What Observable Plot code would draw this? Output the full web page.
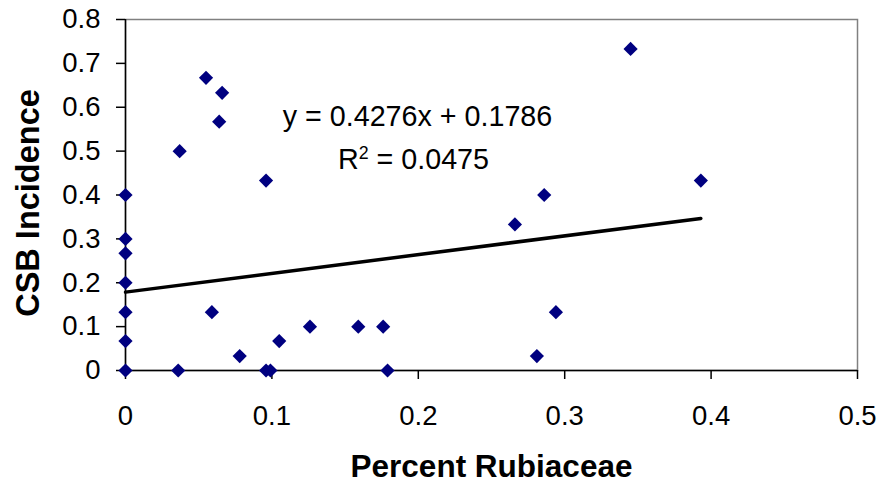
<!DOCTYPE html>
<html>
<head>
<meta charset="utf-8">
<script src="https://cdn.jsdelivr.net/npm/d3@7"></script>
<script src="https://cdn.jsdelivr.net/npm/@observablehq/plot@0.6"></script>
<style>
  html, body { margin: 0; padding: 0; background: #fff; }
</style>
</head>
<body>
<div id="chart"></div>
<script>
// Percent Rubiaceae (x) vs CSB Incidence (y)
const percentRubiaceae = [0, 0, 0, 0, 0, 0, 0, 0.036, 0.037, 0.055, 0.059, 0.064, 0.066, 0.078, 0.096, 0.096, 0.099, 0.105, 0.126, 0.159, 0.176, 0.179, 0.266, 0.281, 0.286, 0.294, 0.345, 0.393];
const csbIncidence    = [0.4, 0.3, 0.267, 0.2, 0.133, 0.067, 0, 0, 0.5, 0.667, 0.133, 0.567, 0.633, 0.033, 0.433, 0, 0, 0.067, 0.1, 0.1, 0.1, 0, 0.333, 0.033, 0.4, 0.133, 0.733, 0.433];

const trendSlope = 0.4276;
const trendIntercept = 0.1786;
const equationText = "y = 0.4276x + 0.1786";
const rSquaredText = "R2 = 0.0475";

const xTicks = [0, 0.1, 0.2, 0.3, 0.4, 0.5];
const xTickLabels = ["0", "0.1", "0.2", "0.3", "0.4", "0.5"];
const yTicks = [0, 0.1, 0.2, 0.3, 0.4, 0.5, 0.6, 0.7, 0.8];
const yTickLabels = ["0", "0.1", "0.2", "0.3", "0.4", "0.5", "0.6", "0.7", "0.8"];

const xTitle = "Percent Rubiaceae";
const yTitle = "CSB Incidence";

const points = percentRubiaceae.map((x, i) => ({x, y: csbIncidence[i]}));
const xMax = d3.max(percentRubiaceae);
const trend = [0, xMax].map(x => ({x, y: trendSlope * x + trendIntercept}));

const FONT = "'Liberation Sans', Arial, Helvetica, sans-serif";

const chart = Plot.plot({
  width: 881,
  height: 488,
  marginLeft: 125,
  marginRight: 24,
  marginTop: 19,
  marginBottom: 118,
  style: {fontFamily: FONT, fontSize: "27px", color: "#000", background: "#fff"},
  x: {domain: [0, 0.5], nice: false},
  y: {domain: [0, 0.8], nice: false},
  marks: [
    Plot.frame({stroke: "#808080", strokeWidth: 1.5}),
    Plot.ruleX([0], {stroke: "#000", strokeWidth: 1.5}),
    Plot.ruleY([0], {stroke: "#000", strokeWidth: 1.5}),
    Plot.axisX(xTicks, {tickSize: 9, tickPadding: 26, fontSize: 27.5, stroke: "#000", strokeWidth: 1.5, strokeOpacity: 1, label: null, tickFormat: (d, i) => xTickLabels[i]}),
    Plot.axisY(yTicks, {tickSize: 9, tickPadding: 16, fontSize: 27.5, stroke: "#000", strokeWidth: 1.5, strokeOpacity: 1, label: null, tickFormat: (d, i) => yTickLabels[i]}),
    Plot.line(trend, {x: "x", y: "y", stroke: "#000", strokeWidth: 3.5}),
    Plot.dot(points, {x: "x", y: "y", symbol: "diamond2", r: 6.4, fill: "#000080", stroke: "none"}),
    Plot.text([equationText], {frameAnchor: "top-left", dx: 292, dy: 97, fontSize: 28.7, textAnchor: "middle", lineAnchor: "middle", fill: "#000"}),
    Plot.text([rSquaredText], {frameAnchor: "top-left", dx: 288, dy: 140, fontSize: 28.7, textAnchor: "middle", lineAnchor: "middle", fill: "#000", className: "rsq"}),
    Plot.text([xTitle], {frameAnchor: "bottom", dy: 96, fontSize: 31.5, fontWeight: "bold", textAnchor: "middle", lineAnchor: "middle", fill: "#000"}),
    Plot.text([yTitle], {frameAnchor: "left", dx: -97, dy: 8, rotate: -90, fontSize: 32.5, fontWeight: "bold", textAnchor: "middle", lineAnchor: "middle", fill: "#000"})
  ]
});

// Turn the "2" of R2 into a real superscript
d3.select(chart).selectAll("g.rsq text").each(function() {
  const t = d3.select(this);
  const txt = t.text();
  t.text(null);
  t.append("tspan").text(txt.slice(0, 1));
  t.append("tspan").attr("baseline-shift", "super").attr("font-size", "62%").text(txt.slice(1, 2));
  t.append("tspan").text(txt.slice(2));
});

document.getElementById("chart").appendChild(chart);
</script>
</body>
</html>
